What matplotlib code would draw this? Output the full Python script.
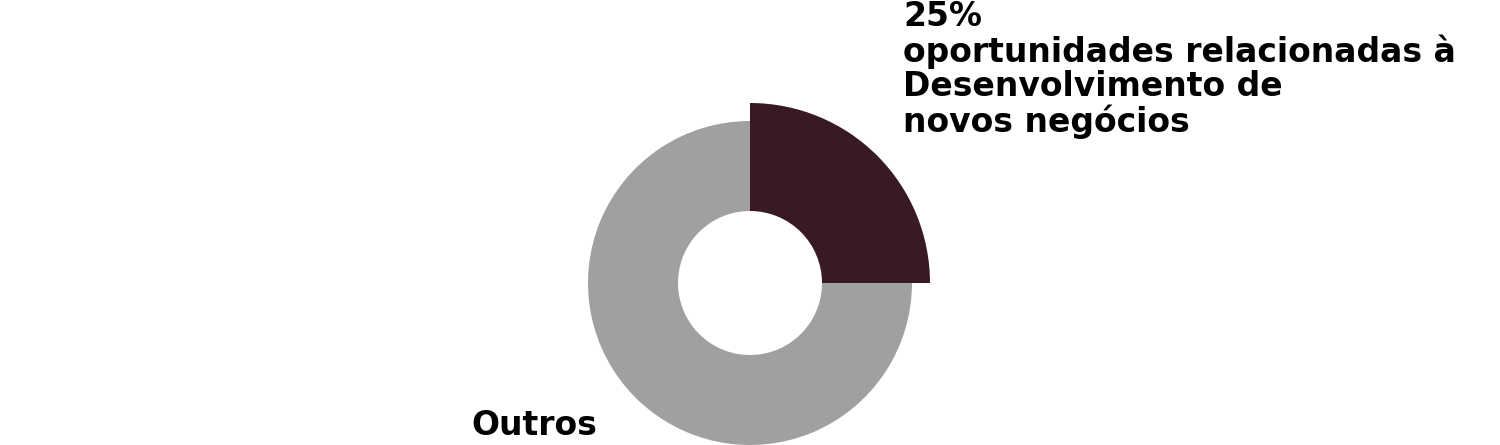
import matplotlib
matplotlib.use("Agg")
import matplotlib.pyplot as plt

# === data ===
labels = ["25%\noportunidades relacionadas à\nDesenvolvimento de\nnovos negócios", "Outros"]
values = [25, 75]
colors = ["#381a24", "#a0a0a0"]

# === figure in pixel units ===
fig = plt.figure(figsize=(15, 4.45), dpi=100)
ax = fig.add_axes([0, 0, 1, 1])

cx, cy = 750, 445 - 283
r_out, r_in = 162, 72
r_big = 180

wedges, _ = ax.pie(values, colors=colors, radius=r_out, center=(cx, cy),
                   startangle=90, counterclock=False,
                   wedgeprops=dict(width=r_out - r_in, linewidth=0))

# highlighted slice sticks out further
wedges[0].set_radius(r_big)
wedges[0].set_width(r_big - r_in)

ax.set_xlim(0, 1500)
ax.set_ylim(0, 445)
ax.set_aspect("auto")
ax.axis("off")

# --- labels ---
ax.text(903, 445, labels[0], ha="left", va="top", fontsize=23.8,
        fontweight="bold", linespacing=1.055)
ax.text(471, 10, labels[1], ha="left", va="baseline", fontsize=23.8,
        fontweight="bold")

fig.savefig("out.png", dpi=100)
